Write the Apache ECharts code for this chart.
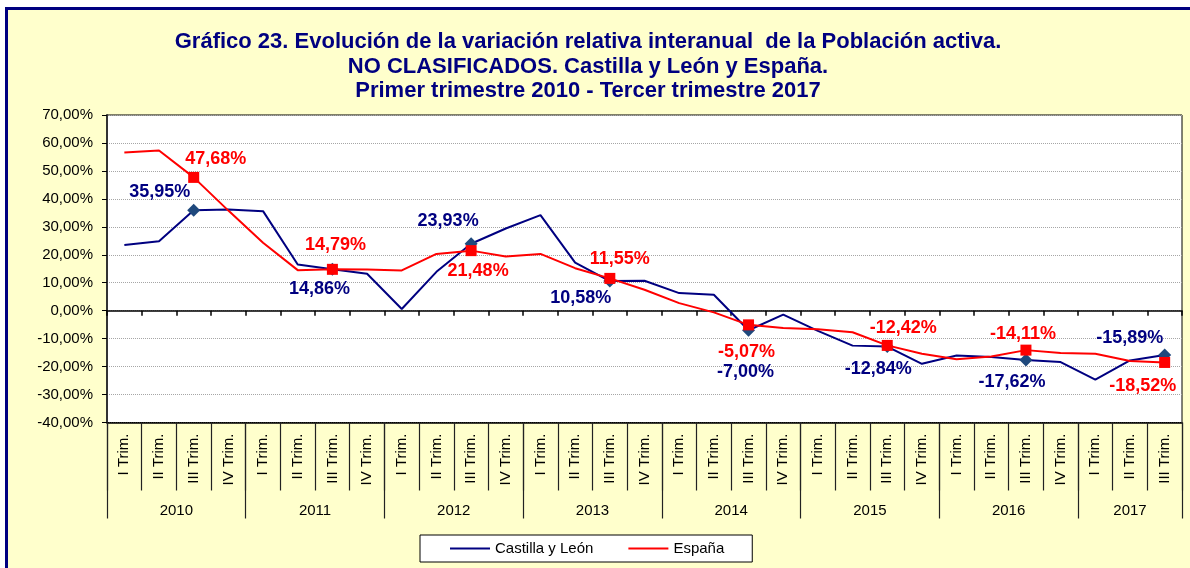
<!DOCTYPE html>
<html>
<head>
<meta charset="utf-8">
<title>Gráfico 23</title>
<script src="https://cdn.jsdelivr.net/npm/echarts@6/dist/echarts.min.js"></script>
<style>
  html, body { margin: 0; padding: 0; background: #fff; overflow: hidden; }
  .frame {
    position: absolute; left: 5px; top: 7px; width: 1200px; height: 580px;
    background: #FFFFCC; border-left: 3px solid #000080; border-top: 3px solid #000080;
  }
  #chart { position: absolute; left: 0; top: 0; width: 1190px; height: 568px; }
</style>
</head>
<body>
<div class="frame"></div>
<div id="chart"></div>
<script>
// datos
var years = ["2010", "2011", "2012", "2013", "2014", "2015", "2016", "2017"];
var quarterNames = ["I Trim.", "II Trim.", "III Trim.", "IV Trim."];
var yTicks = [-40, -30, -20, -10, 0, 10, 20, 30, 40, 50, 60, 70];

var castilla = [23.5, 24.8, 35.95, 36.2, 35.6, 16.5, 14.86, 13.2,
                0.6, 13.9, 23.93, 29.4, 34.2, 17.2, 10.58, 10.7,
                6.3, 5.7, -7.00, -1.4, -7.2, -12.5, -12.84, -19.0,
                -16.0, -16.6, -17.62, -18.4, -24.7, -17.8, -15.89];
var espana = [56.6, 57.3, 47.68, 35.8, 24.3, 14.5, 14.79, 14.7,
              14.4, 20.3, 21.48, 19.4, 20.3, 15.2, 11.55, 7.5,
              2.7, -0.6, -5.07, -6.2, -6.6, -7.7, -12.42, -15.4,
              -17.4, -16.4, -14.11, -15.1, -15.4, -18.0, -18.52];

// posiciones de las etiquetas (desplazamiento desde el punto)
var castillaLabelOffset = {
  2: [-34, -18], 6: [-13, 20], 10: [-23, -23], 14: [-29, 17],
  18: [-3, 42], 22: [-9, 22], 26: [-14, 22], 30: [-35, -17]
};
var espanaLabelOffset = {
  2: [22, -18], 6: [3, -24], 10: [7, 20], 14: [10, -19],
  18: [-2, 27], 22: [16, -17], 26: [-3, -16], 30: [-22, 24]
};

var periods = [];
years.forEach(function (y) {
  quarterNames.forEach(function (q) {
    if (periods.length < castilla.length) periods.push(y + " " + q);
  });
});
// eje de años: medios trimestres (63 puntos)
var halfSteps = [];
for (var h = 0; h <= periods.length * 2; h++) halfSteps.push(String(h));

function pct(v) {
  return v.toFixed(2).replace(".", ",") + "%";
}

function buildData(values, offsets, symbol, color, size) {
  return values.map(function (v, i) {
    var off = offsets[i];
    if (!off) {
      return { value: v, symbol: "none", label: { show: false } };
    }
    return {
      value: v,
      symbol: symbol,
      symbolSize: size,
      itemStyle: { color: color },
      label: {
        show: true,
        position: "inside",
        offset: off,
        formatter: function (p) { return pct(p.value); }
      }
    };
  });
}

var chart = echarts.init(document.getElementById("chart"));

var option = {
  backgroundColor: "transparent",
  animation: false,
  textStyle: { fontFamily: "Liberation Sans, Arial, sans-serif" },
  title: {
    text: "Gráfico 23. Evolución de la variación relativa interanual  de la Población activa.\nNO CLASIFICADOS. Castilla y León y España.\nPrimer trimestre 2010 - Tercer trimestre 2017",
    left: 583,
    top: 25,
    textAlign: "center",
    textStyle: {
      color: "#000080",
      fontSize: 22,
      fontWeight: "bold",
      lineHeight: 24.5,
      fontFamily: "Liberation Sans, Arial, sans-serif"
    }
  },
  legend: {
    left: 420,
    top: 535,
    icon: "rect",
    itemWidth: 40,
    itemHeight: 2,
    itemGap: 35,
    padding: [6, 28, 6, 30],
    backgroundColor: "#fff",
    borderColor: "#000",
    borderWidth: 1,
    textStyle: { color: "#000", fontSize: 15 },
    data: ["Castilla y León", "España"]
  },
  grid: {
    left: 107,
    top: 115,
    right: 8,
    bottom: 145.5,
    show: true,
    backgroundColor: "#fff",
    borderColor: "#000",
    borderWidth: 1
  },
  xAxis: [
    {
      type: "category",
      data: periods,
      boundaryGap: true,
      axisLine: { onZero: true, lineStyle: { color: "#000", width: 1.5 } },
      axisTick: { show: true, length: 5, interval: 0, lineStyle: { color: "#000", width: 1.5 } },
      axisLabel: { show: false },
      splitLine: { show: false }
    },
    {
      type: "category",
      data: periods,
      position: "bottom",
      boundaryGap: true,
      axisLine: { onZero: false, lineStyle: { color: "#000", width: 1.5 } },
      axisTick: { show: true, length: 68, interval: 0, lineStyle: { color: "#222", width: 1.2 } },
      axisLabel: {
        interval: 0,
        rotate: 90,
        margin: 11,
        fontSize: 15,
        color: "#000",
        formatter: function (v) { return v.split(" ").slice(1).join(" "); }
      },
      splitLine: { show: false }
    },
    {
      type: "category",
      data: halfSteps,
      position: "bottom",
      boundaryGap: false,
      axisLine: { show: false, onZero: false },
      axisTick: {
        show: true,
        length: 96,
        interval: function (i) { return i % 8 === 0 || i === halfSteps.length - 1; },
        lineStyle: { color: "#222", width: 1.2 }
      },
      axisLabel: {
        fontSize: 15,
        color: "#000",
        margin: 81,
        interval: function (i) {
          var last = halfSteps.length - 1;
          var lastStart = Math.floor((last - 1) / 8) * 8;
          if (i >= lastStart) return i === Math.round((lastStart + last) / 2);
          return i % 8 === 4;
        },
        formatter: function (v) {
          var q = Math.min(Math.floor(Number(v) / 2), periods.length - 1);
          return years[Math.floor(q / 4)];
        }
      },
      splitLine: { show: false }
    }
  ],
  yAxis: {
    type: "value",
    min: yTicks[0],
    max: yTicks[yTicks.length - 1],
    interval: 10,
    axisLine: { show: true, lineStyle: { color: "#333", width: 2 } },
    axisTick: { show: true, length: 5, lineStyle: { color: "#000" } },
    axisLabel: {
      fontSize: 15,
      color: "#000",
      margin: 14,
      formatter: function (v) { return pct(v); }
    },
    splitLine: { show: true, lineStyle: { color: "#A6A6A6", type: "dotted", width: 1 } }
  },
  series: [
    {
      name: "Castilla y León",
      type: "line",
      xAxisIndex: 0,
      color: "#000080",
      lineStyle: { color: "#000080", width: 2 },
      symbol: "diamond",
      symbolSize: 13,
      z: 3,
      label: { color: "#000080", fontSize: 18, fontWeight: "bold" },
      data: buildData(castilla, castillaLabelOffset, "diamond", "#1F497D", 13)
    },
    {
      name: "España",
      type: "line",
      xAxisIndex: 0,
      color: "#FF0000",
      lineStyle: { color: "#FF0000", width: 2 },
      symbol: "rect",
      symbolSize: 11,
      z: 4,
      label: { color: "#FF0000", fontSize: 18, fontWeight: "bold" },
      data: buildData(espana, espanaLabelOffset, "rect", "#FF0000", 11)
    }
  ]
};

chart.setOption(option);
</script>
</body>
</html>
